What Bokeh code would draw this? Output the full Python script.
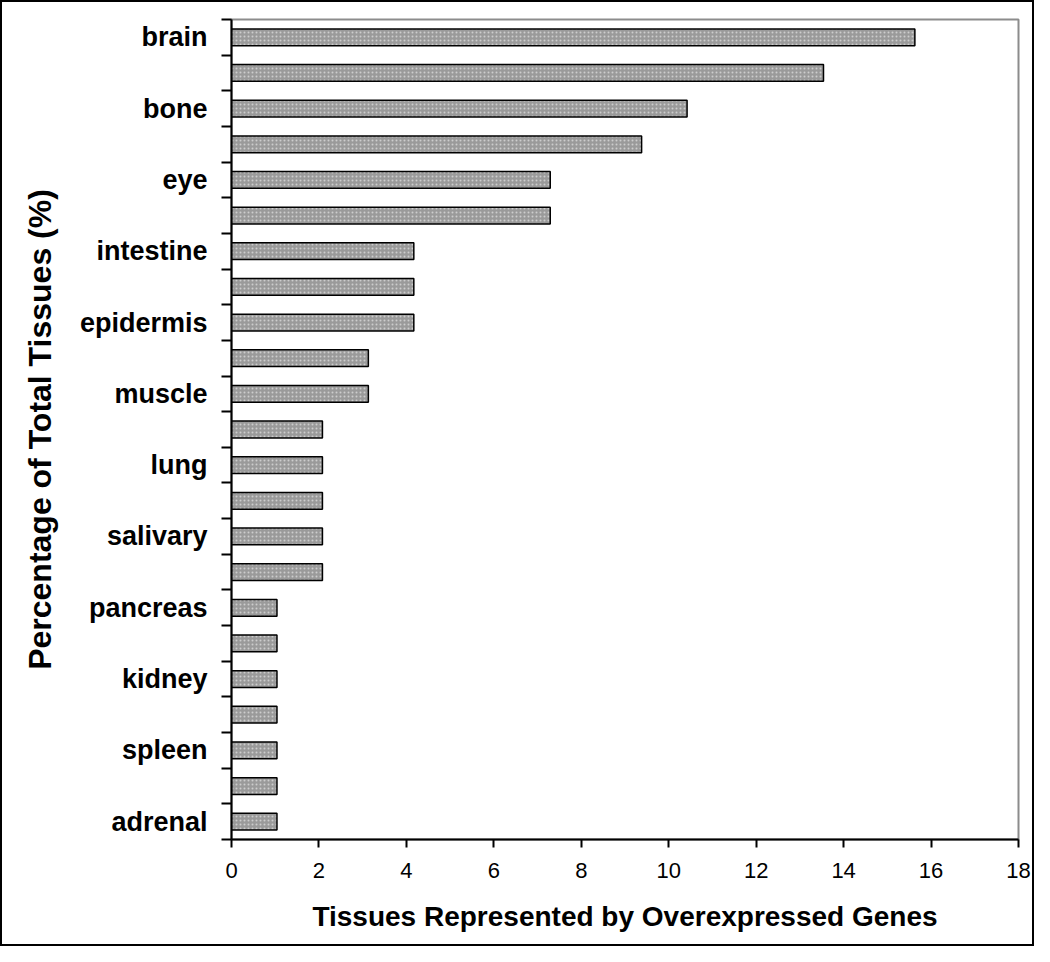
from bokeh.plotting import figure
from bokeh.models import FixedTicker, Range1d
from bokeh.embed import file_html
from bokeh.resources import INLINE

tissues = ["brain", "", "bone", "", "eye", "", "intestine", "", "epidermis", "",
           "muscle", "", "lung", "", "salivary", "", "pancreas", "", "kidney", "",
           "spleen", "", "adrenal"]
percent = [15.63, 13.54, 10.42, 9.38, 7.29, 7.29, 4.17, 4.17, 4.17, 3.13, 3.13,
           2.08, 2.08, 2.08, 2.08, 2.08, 1.04, 1.04, 1.04, 1.04, 1.04, 1.04, 1.04]
x_ticks = [0, 2, 4, 6, 8, 10, 12, 14, 16, 18]

n = len(tissues)
ypos = [n - 1 - i + 0.5 for i in range(n)]
label_pos = [y for y, t in zip(ypos, tissues) if t]
overrides = {y: t for y, t in zip(ypos, tissues) if t}

FONT = "Liberation Sans"
W, H = 1030, 942

p = figure(frame_width=787, frame_height=820,
           min_border_left=229, min_border_top=17, min_border_right=W - 229 - 787,
           min_border_bottom=H - 17 - 820,
           x_range=Range1d(0, 18), y_range=Range1d(0, n),
           output_backend="svg", toolbar_location=None,
           styles={"border": "2px solid black"})

p.hbar(y=ypos, right=percent, left=0, height=0.47,
       fill_color="#9a9a9a", line_color="black", line_width=1.5,
       hatch_pattern=".", hatch_color="#cdcdcd", hatch_scale=4, hatch_weight=1.2)

p.xgrid.visible = False
p.ygrid.visible = False
p.outline_line_color = "#8c8c8c"
p.outline_line_width = 2
p.background_fill_color = "white"
p.border_fill_color = "white"

xa = p.xaxis[0]
xa.ticker = FixedTicker(ticks=x_ticks)
xa.axis_line_width = 2
xa.axis_line_color = "black"
xa.major_tick_out = 8
xa.major_tick_in = 0
xa.major_tick_line_width = 2
xa.minor_tick_out = 0
xa.minor_tick_in = 0
xa.major_label_text_font = FONT
xa.major_label_text_font_size = "22px"
xa.major_label_text_color = "black"
xa.major_label_standoff = 15
xa.axis_label = "Tissues Represented by Overexpressed Genes"
xa.axis_label_text_font = FONT
xa.axis_label_text_font_size = "28px"
xa.axis_label_text_font_style = "bold"
xa.axis_label_text_color = "black"
xa.axis_label_standoff = 20

ya = p.yaxis[0]
ya.ticker = FixedTicker(ticks=label_pos, minor_ticks=list(range(0, n + 1)))
ya.major_label_overrides = overrides
ya.axis_line_width = 2
ya.axis_line_color = "black"
ya.major_tick_out = 0
ya.major_tick_in = 0
ya.minor_tick_out = 10
ya.minor_tick_in = 0
ya.minor_tick_line_width = 2
ya.minor_tick_line_color = "black"
ya.major_label_text_font = FONT
ya.major_label_text_font_size = "27px"
ya.major_label_text_font_style = "bold"
ya.major_label_text_color = "black"
ya.major_label_standoff = 14
ya.axis_label = "Percentage of Total Tissues (%)"
ya.axis_label_text_font = FONT
ya.axis_label_text_font_size = "32px"
ya.axis_label_text_font_style = "bold"
ya.axis_label_text_color = "black"
ya.axis_label_standoff = 19

open("out.html", "w").write(file_html(p, INLINE))
